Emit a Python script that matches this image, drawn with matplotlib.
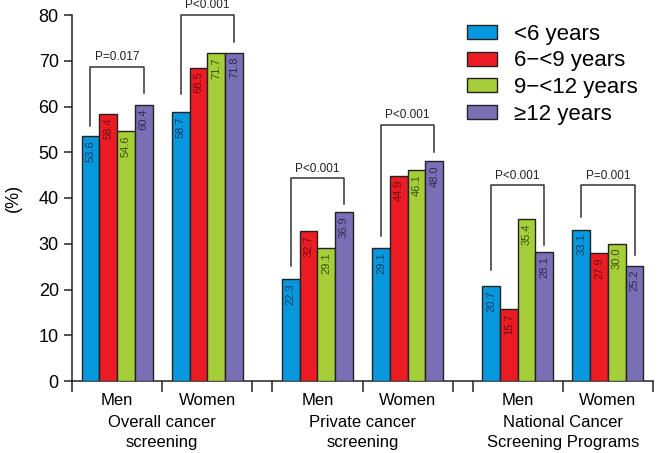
import matplotlib.pyplot as plt
from matplotlib.patches import Patch
from matplotlib.transforms import blended_transform_factory

plt.rcParams['font.family'] = ['Liberation Sans', 'DejaVu Sans']

# data
groups = ['Overall cancer\nscreening', 'Private cancer\nscreening', 'National Cancer\nScreening Programs']
sexes = ['Men', 'Women']
series = ['<6 years', '6\u2212<9 years', '9\u2212<12 years', '\u226512 years']
colors = ['#0797dd', '#ec1c24', '#a6ce39', '#7a6fb5']
text_colors = ['#0b3d66', '#6e0c10', '#3d5214', '#2e2a55']

# values[group][sex] -> 4 series
values = [
    [[53.6, 58.4, 54.6, 60.4], [58.7, 68.5, 71.7, 71.8]],
    [[22.3, 32.7, 29.1, 36.9], [29.1, 44.9, 46.1, 48.0]],
    [[20.7, 15.7, 35.4, 28.1], [33.1, 27.9, 30.0, 25.2]],
]
pvals = [['P=0.017', 'P<0.001'], ['P<0.001', 'P<0.001'], ['P<0.001', 'P=0.001']]
# bracket: top, left leg bottom, right leg bottom
brackets = [
    [(68.7, 55.7, 62.9), (80.0, 62.7, 74.0)],
    [(44.3, 25.1, 38.7), (56.0, 31.7, 50.0)],
    [(42.8, 24.3, 29.7), (42.8, 35.9, 27.5)],
]

gap = 0.22
bw = 0.197

fig = plt.figure(figsize=(6.58, 4.53), dpi=100)
ax = fig.add_axes([72/658, 1 - 381/453, 581/658, 366/453])

tr = blended_transform_factory(ax.transData, fig.transFigure)
ticks = []
for g in range(3):
    base = g * (2 + gap)
    ticks += [base, base + 1, base + 2]
    for s in range(2):
        c = base + s + 0.5
        xs = [c + (i - 1.5) * bw for i in range(4)]
        vals = values[g][s]
        ax.bar(xs, vals, width=bw, color=colors, edgecolor='#222222', linewidth=1.0, zorder=3)
        for x, v, tc in zip(xs, vals, text_colors):
            ax.text(x, v - 0.9, f'{v:.1f}', rotation=90, ha='center', va='top',
                    fontsize=8, color=tc, zorder=4)
        top, lb, rb = brackets[g][s]
        ax.plot([xs[0], xs[0], xs[3], xs[3]], [lb, top, top, rb], color='#333333',
                lw=1.1, clip_on=False)
        ax.text((xs[0] + xs[3]) / 2, top + 0.8, pvals[g][s], ha='center', va='bottom',
                fontsize=8.5, color='#222222', clip_on=False)
        ax.text(c, 1 - 393/453, sexes[s], transform=tr, ha='center', va='top', fontsize=12)
    ax.text(base + 1, 1 - 415/453, groups[g], transform=tr, ha='center', va='top',
            fontsize=12, linespacing=1.45)

ax.set_xlim(0, 6 + 2 * gap)
ax.set_ylim(0, 80)
ax.set_xticks(ticks)
ax.set_xticklabels([])
ax.set_yticks(range(0, 81, 10))
ax.tick_params(axis='both', direction='out', length=6, width=1.1, labelsize=13, color='#222222')
ax.tick_params(axis='x', length=8)
for sp in ['top', 'right']:
    ax.spines[sp].set_visible(False)
for sp in ['left', 'bottom']:
    ax.spines[sp].set_linewidth(1.1)
    ax.spines[sp].set_color('#222222')
ax.set_ylabel('(%)', fontsize=13, labelpad=12)

handles = [Patch(facecolor=c, edgecolor='#222222', linewidth=1.0) for c in colors]
fig.legend(handles, series, loc='upper left', bbox_to_anchor=(458/658, 1 - 15/453),
           frameon=False, fontsize=16, handlelength=1.35, handleheight=0.6,
           handletextpad=0.75, labelspacing=0.25, borderaxespad=0)

fig.savefig('out.png', dpi=100)
